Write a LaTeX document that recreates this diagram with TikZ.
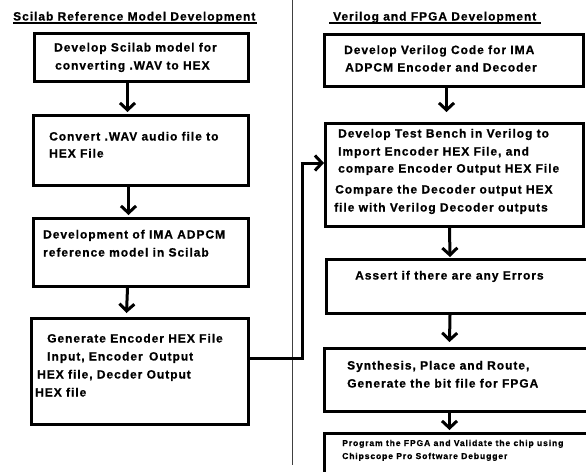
\documentclass[tikz,border=0pt]{standalone}
\usepackage{fontspec}
\setmainfont{Liberation Sans}[LetterSpace=8,FakeBold=0.8]
\newfontfamily\smallfnt{Liberation Sans}[LetterSpace=10,FakeBold=0.6]
\usetikzlibrary{arrows.meta}
\begin{document}
\begin{tikzpicture}[x=1pt,y=-1pt,
  box/.style={draw, line width=3pt, rectangle, inner sep=0pt, anchor=north west},
  txt/.style={inner sep=0pt, anchor=base west, font=\bfseries\fontsize{12}{14}\selectfont},
  stxt/.style={inner sep=0pt, anchor=base west, font=\smallfnt\bfseries\fontsize{8.6}{10}\selectfont},
  conn/.style={line width=3pt, -{Straight Barb[length=7pt,width=15pt]}},
  wire/.style={line width=3pt}]
\useasboundingbox (0,0) rectangle (586,471);
\clip (0,0) rectangle (586,471);
\fill[white] (0,0) rectangle (586,471);
% separator
\draw[line width=1pt, black!75] (292.5,0) -- (292.5,465);
% titles
\node[txt] (tl) at (13,20.5) {Scilab Reference Model Development};
\draw[line width=2pt] (13,23) -- (257,23);
\node[txt] (tr) at (333,20.5) {Verilog and FPGA Development};
\draw[line width=2pt] (329,23) -- (541,23);
% left boxes
\node[box, minimum width=214pt, minimum height=48pt] (L1) at (33,32) {};
\node[txt] (L1a) at (54,51.5) {Develop Scilab model for};
\node[txt] (L1b) at (55,69.5) {converting .WAV to HEX};
\node[box, minimum width=215pt, minimum height=70pt] (L2) at (32,114) {};
\node[txt] (L2a) at (49,140.5) {Convert .WAV audio file to};
\node[txt] (L2b) at (49,157.5) {HEX File};
\node[box, minimum width=215pt, minimum height=68pt] (L3) at (32,217) {};
\node[txt] (L3a) at (43,238.5) {Development of IMA ADPCM};
\node[txt] (L3b) at (43,256.5) {reference model in Scilab};
\node[box, minimum width=217pt, minimum height=106pt] (L4) at (30,317) {};
\node[txt] (L4a) at (47,342.5) {Generate Encoder HEX File};
\node[txt] (L4b) at (47,360.5) {Input, Encoder\, Output};
\node[txt] (L4c) at (37,378.5) {HEX file, Decder Output};
\node[txt] (L4d) at (35,396.5) {HEX file};
% right boxes
\node[box, minimum width=259pt, minimum height=52pt] (R1) at (323,33) {};
\node[txt] (R1a) at (344,54) {Develop Verilog Code for IMA};
\node[txt] (R1b) at (345,71.5) {ADPCM Encoder and Decoder};
\node[box, minimum width=258pt, minimum height=103pt] (R2) at (324,122) {};
\node[txt] (R2a) at (338,137.5) {Develop Test Bench in Verilog to};
\node[txt] (R2b) at (338,155.5) {Import Encoder HEX File, and};
\node[txt] (R2c) at (338,172.5) {compare Encoder Output HEX File};
\node[txt] (R2d) at (335,193.5) {Compare the Decoder output HEX};
\node[txt] (R2e) at (334,211.5) {file with Verilog Decoder outputs};
\node[box, minimum width=280pt, minimum height=54pt] (R3) at (325,258) {};
\node[txt] (R3a) at (355,279.5) {Assert if there are any Errors};
\node[box, minimum width=280pt, minimum height=63pt] (R4) at (323,347) {};
\node[txt] (R4a) at (347,369.5) {Synthesis, Place and Route,};
\node[txt] (R4b) at (347,387.5) {Generate the bit file for FPGA};
\node[box, minimum width=280pt, minimum height=60pt] (R5) at (323,432) {};
\node[stxt] (R5a) at (342,446) {Program the FPGA and Validate the chip using};
\node[stxt] (R5b) at (342,459) {Chipscope Pro Software Debugger};
% connectors left
\draw[conn] ([xshift=-14pt]L1.south) -- ([xshift=-13.5pt,yshift=2pt]L2.north);
\draw[conn] ([xshift=-12.5pt]L2.south) -- ([xshift=-12.5pt,yshift=2pt]L3.north);
\draw[conn] ([xshift=-13.5pt]L3.south) -- ([xshift=-13.5pt,yshift=4pt]L4.north);
% connectors right
\draw[conn] ([xshift=-7.5pt]R1.south) -- ([xshift=-8pt,yshift=10pt]R2.north);
\draw[conn] ([xshift=-5pt]R2.south) -- ([xshift=-16.5pt,yshift=1pt]R3.north);
\draw[conn] ([xshift=-16.5pt]R3.south) -- ([xshift=-15pt,yshift=5pt]R4.north);
\draw[conn] ([xshift=-15pt]R4.south) -- ([xshift=-15pt,yshift=2pt]R5.north);
% cross connector
\coordinate (k1) at (302,358);
\coordinate (k2) at (302,163);
\draw[wire] (L4.east |- k1) -- (k1) -- (k2);
\draw[conn] ([xshift=-1.5pt]k2) -- (R2.west |- k2);
\end{tikzpicture}
\end{document}
